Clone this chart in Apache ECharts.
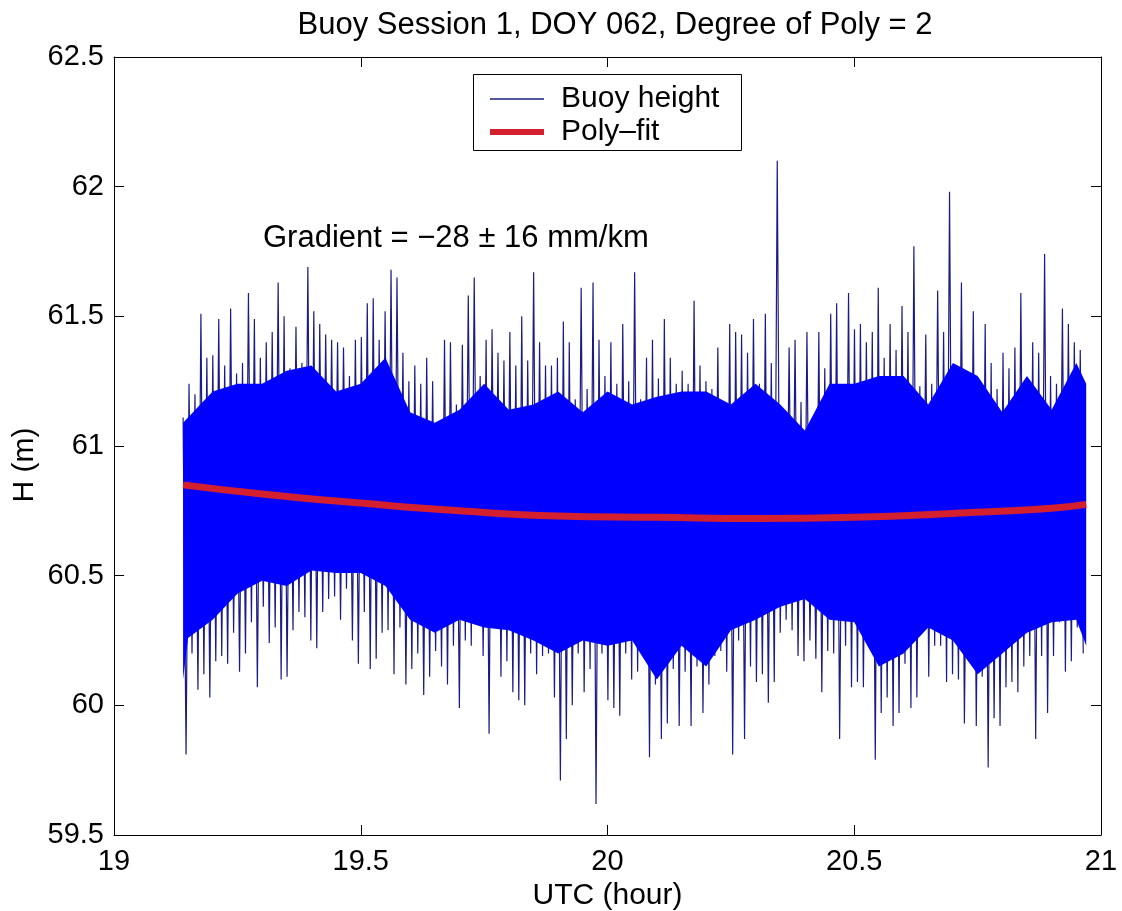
<!DOCTYPE html>
<html>
<head>
<meta charset="utf-8">
<script src="https://cdn.jsdelivr.net/npm/echarts@6/dist/echarts.min.js"></script>
<style>
html,body{margin:0;padding:0;background:#fff;}
#c{width:1122px;height:911px;}
</style>
</head>
<body>
<div id="c"></div>
<script>
// ---- Data ----
const titleText = 'Buoy Session 1, DOY 062, Degree of Poly = 2';
const xTicks = [19, 19.5, 20, 20.5, 21];
const yTicks = [59.5, 60, 60.5, 61, 61.5, 62, 62.5];

// Buoy height record: sampled from 19.14 h to 20.97 h, one bin every ~0.012 h.
const sampleStart = 19.14;
const sampleEnd = 20.97;
// Highest excursion in each bin (m)
const hiVals = [
  61.11,61.24,61.20,61.51,61.34,61.35,61.49,61.31,61.53,61.28,61.32,61.59,61.49,61.34,61.40,61.44,61.63,61.50,61.30,61.46,61.32,61.69,61.52,61.47,61.43,61.41,61.40,61.38,61.27,
  61.41,61.42,61.55,61.57,61.41,61.52,61.68,61.65,61.36,61.25,61.31,61.24,61.34,61.25,61.09,61.41,61.40,61.16,61.39,61.58,61.65,61.27,61.41,61.45,61.36,61.33,61.44,61.31,61.50,61.33,61.67,
  61.40,61.31,61.31,61.34,61.48,61.40,61.18,61.61,61.22,61.63,61.41,61.27,61.40,61.24,61.47,61.25,61.67,61.18,61.34,61.41,61.26,61.49,61.34,61.24,61.29,61.24,61.56,61.31,61.25,61.22,61.38,
  61.16,61.47,61.44,61.43,61.36,61.49,61.24,61.51,61.32,62.10,61.08,61.38,61.41,61.17,61.44,61.00,61.44,61.30,61.51,61.55,61.21,61.59,61.45,61.47,61.40,61.44,61.61,61.34,61.47,61.37,61.54,
  61.44,61.77,61.23,61.43,61.24,61.60,61.44,61.98,61.19,61.63,61.04,61.52,61.21,61.47,61.32,61.22,61.36,61.30,61.38,61.59,61.25,61.40,61.36,61.74,61.27,61.24,61.53,61.47,61.40,61.37
];
// Lowest excursion in each bin (m)
const loVals = [
  59.81,60.20,60.06,60.12,60.03,60.17,60.19,60.16,60.28,60.13,60.20,60.32,60.07,60.38,60.24,60.30,60.10,60.11,60.29,60.36,60.34,60.25,60.22,60.36,60.41,60.42,60.33,60.45,60.25,
  60.16,60.36,60.14,60.18,60.28,60.29,60.12,60.30,60.08,60.14,60.20,60.04,60.11,60.21,60.15,60.08,60.23,59.99,60.25,60.23,60.32,60.19,59.89,60.33,60.11,60.17,60.05,60.02,60.00,60.20,60.12,
  60.19,60.20,60.03,59.71,59.87,60.00,60.20,60.05,60.14,59.62,60.20,60.02,59.99,59.96,60.20,60.10,60.13,60.28,59.80,60.08,59.87,59.93,60.14,59.92,60.13,59.92,60.15,59.97,60.08,60.19,60.21,
  60.13,59.81,60.25,59.87,60.15,60.09,60.12,60.01,60.09,60.28,60.33,60.29,60.19,60.17,60.25,60.18,60.05,60.21,60.20,59.87,60.23,60.07,60.09,60.07,60.23,59.79,59.97,60.03,59.92,59.97,60.16,
  59.99,60.03,60.30,60.11,60.23,60.23,60.09,60.12,60.10,59.93,60.27,59.92,60.11,59.76,59.95,59.92,60.07,60.09,60.05,60.15,60.19,59.87,60.19,59.97,60.19,60.32,60.13,60.17,60.30,60.20
];
// Dense core of the record (solid band)
const coreT  = [19.14,19.15,19.20,19.25,19.30,19.35,19.40,19.45,19.50,19.55,19.60,19.65,19.70,19.75,19.80,19.85,19.90,19.95,20.00,20.05,20.10,20.15,20.20,20.25,20.30,20.35,20.40,20.45,20.50,20.55,20.60,20.65,20.70,20.75,20.80,20.85,20.90,20.95,20.97];
const coreHi = [61.09,61.11,61.21,61.24,61.24,61.29,61.31,61.21,61.24,61.34,61.13,61.09,61.14,61.24,61.14,61.16,61.21,61.13,61.21,61.16,61.19,61.21,61.21,61.16,61.24,61.16,61.06,61.24,61.24,61.27,61.27,61.16,61.32,61.27,61.13,61.27,61.14,61.32,61.24];
const coreLo = [60.10,60.26,60.33,60.43,60.48,60.46,60.52,60.51,60.51,60.46,60.33,60.28,60.33,60.30,60.29,60.25,60.20,60.25,60.23,60.25,60.10,60.23,60.15,60.29,60.33,60.38,60.41,60.33,60.32,60.15,60.20,60.30,60.25,60.12,60.20,60.28,60.32,60.33,60.23];
// Polynomial fit (degree 2)
const fitT = [19.14,19.3,19.5,19.7,19.9,20.1,20.3,20.5,20.7,20.9,20.97];
const fitH = [60.85,60.815,60.78,60.75,60.73,60.725,60.72,60.725,60.74,60.76,60.775];
const gradientText = 'Gradient = \u221228 \u00b1 16 mm/km';
const legendNames = ['Buoy height', 'Poly\u2013fit'];

// ---- Build series data ----
const nBins = hiVals.length;
const step = (sampleEnd - sampleStart) / nBins;
const buoyData = [];
for (let i = 0; i < nBins; i++) {
  buoyData.push([sampleStart + i * step, hiVals[i]]);
  buoyData.push([sampleStart + (i + 0.5) * step, loVals[i]]);
}
const coreData = coreT.map((t, i) => [t, coreLo[i], coreHi[i]]);
const fitData = fitT.map((t, i) => [t, fitH[i]]);

const FONT = 'Liberation Sans, Arial, Helvetica, sans-serif';
const BLUE = '#0000ff';
const NAVY = '#1b1b86';
const RED = '#d41f2e';
const chart = echarts.init(document.getElementById('c'), null, {renderer: 'canvas'});
const axisCommon = {
  axisLine: {show: true, onZero: false, lineStyle: {color: '#000', width: 1}},
  axisTick: {show: true, inside: true, length: 10, lineStyle: {color: '#000', width: 1}},
  splitLine: {show: false}
};
const legendText = {fontFamily: FONT, fontSize: 30, color: '#000', padding: [0, 0, 0, 12]};
chart.setOption({
  animation: false,
  backgroundColor: '#fff',
  title: {
    text: titleText, left: 610, top: 5, textAlign: 'center',
    textStyle: {fontFamily: FONT, fontSize: 31, fontWeight: 'normal', color: '#000'}
  },
  grid: {left: 114, right: 21, top: 57, bottom: 76, containLabel: false, outerBoundsMode: 'none'},
  legend: [
    {
      data: [legendNames[0]], left: 490, top: 84, padding: 0,
      icon: 'rect', itemWidth: 54, itemHeight: 1.5, itemGap: 0,
      textStyle: legendText
    },
    {
      data: [legendNames[1]], left: 490, top: 117, padding: 0,
      icon: 'rect', itemWidth: 54, itemHeight: 6, itemGap: 0,
      textStyle: legendText
    }
  ],
  xAxis: [
    Object.assign({}, axisCommon, {
      type: 'value', min: xTicks[0], max: xTicks[xTicks.length - 1], interval: 0.5, position: 'bottom',
      name: 'UTC (hour)', nameLocation: 'middle', nameGap: 42,
      nameTextStyle: {fontFamily: FONT, fontSize: 30, color: '#000'},
      axisLabel: {fontFamily: FONT, fontSize: 29, color: '#000', margin: 12}
    }),
    Object.assign({}, axisCommon, {
      type: 'value', min: xTicks[0], max: xTicks[xTicks.length - 1], interval: 0.5, position: 'top',
      axisLabel: {show: false}
    })
  ],
  yAxis: [
    Object.assign({}, axisCommon, {
      type: 'value', min: yTicks[0], max: yTicks[yTicks.length - 1], interval: 0.5, position: 'left',
      axisLabel: {fontFamily: FONT, fontSize: 29, color: '#000', margin: 10}
    }),
    Object.assign({}, axisCommon, {
      type: 'value', min: yTicks[0], max: yTicks[yTicks.length - 1], interval: 0.5, position: 'right',
      axisLabel: {show: false}
    })
  ],
  graphic: [
    {
      type: 'rect', left: 473, top: 74, silent: true, z: 100,
      shape: {width: 268, height: 76},
      style: {fill: 'rgba(0,0,0,0)', stroke: '#000', lineWidth: 1}
    },
    {
      type: 'text', x: 25, y: 465, rotation: Math.PI / 2, silent: true,
      style: {text: 'H (m)', fontFamily: FONT, fontSize: 30, fill: '#000', align: 'center', verticalAlign: 'middle'}
    },
    {
      type: 'text', left: 263, top: 223, silent: true,
      style: {text: gradientText, fontFamily: FONT, fontSize: 31, fill: '#000'}
    }
  ],
  series: [
    {
      name: legendNames[0], type: 'line', data: buoyData, showSymbol: false, symbol: 'none',
      lineStyle: {color: NAVY, width: 1.2}, itemStyle: {color: NAVY}, z: 2, silent: true
    },
    {
      name: 'core', type: 'custom', data: coreData, silent: true, z: 3, clip: true,
      encode: {x: 0, y: [1, 2]},
      renderItem: function (params, api) {
        if (params.dataIndex !== 0) return null;
        const top = [], bot = [];
        for (let i = 0; i < coreData.length; i++) {
          top.push(api.coord([coreData[i][0], coreData[i][2]]));
          bot.push(api.coord([coreData[i][0], coreData[i][1]]));
        }
        return {type: 'polygon', shape: {points: top.concat(bot.reverse())}, style: {fill: BLUE}};
      }
    },
    {
      name: legendNames[1], type: 'line', data: fitData, smooth: true, showSymbol: false, symbol: 'none',
      lineStyle: {color: RED, width: 7}, itemStyle: {color: RED}, z: 5, silent: true
    }
  ]
});
</script>
</body>
</html>
